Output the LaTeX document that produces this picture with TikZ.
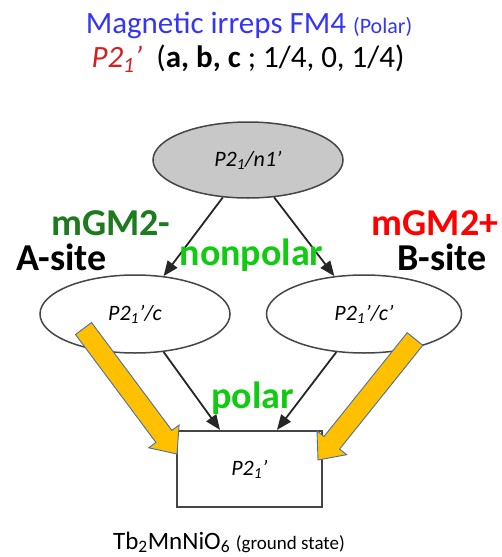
\documentclass[tikz,border=0pt]{standalone}
\usepackage{fontspec}
\setmainfont{Carlito}
\usetikzlibrary{shapes.geometric,arrows.meta,calc}
\definecolor{titleblue}{HTML}{3535F5}
\definecolor{titlered}{HTML}{D42020}
\definecolor{darkgreen}{HTML}{1E7A1E}
\definecolor{brightgreen}{HTML}{10CC10}
\definecolor{labelred}{HTML}{FF0000}
\definecolor{ellgray}{HTML}{C8C8C8}
\definecolor{edgegray}{HTML}{454545}
\definecolor{yelfill}{HTML}{FFC000}
\definecolor{yeledge}{HTML}{4A6FA5}
\newcommand{\fs}[1]{\fontsize{#1}{#1}\selectfont}
\begin{document}
\begin{tikzpicture}[x=1pt,y=-1pt,
  ell/.style={ellipse, draw=edgegray, line width=1.5pt, inner sep=0pt},
  grp/.style={font=\fs{22}\itshape},
  lbl/.style={anchor=base, font=\fs{38}\bfseries, inner sep=0pt},
  conn/.style={draw=black!85, line width=1.8pt, -{Triangle[length=15pt,width=12pt]}},
  yarrow/.style={fill=yelfill, draw=yeledge, line width=0.9pt, line join=miter}
]
\useasboundingbox (0,0) rectangle (501,557);

% title
\node[anchor=base, inner sep=0pt, text=titleblue] (t1) at (249,33)
  {\fs{31}Magnetic irreps FM4 {\fs{22}(Polar)}};
\node[anchor=base, inner sep=0pt] (t2) at (248,67)
  {\fs{31}\textcolor{titlered}{\itshape P2\textsubscript{1}’} \ (\textbf{a, b, c} ; 1/4, 0, 1/4)};

% nodes
\node[ell, fill=ellgray, minimum width=190pt, minimum height=76pt, grp] (top) at (248,160) {P2\textsubscript{1}/n1’};
\node[ell, fill=white, minimum width=190pt, minimum height=78pt, grp] (L) at (135,314) {P2\textsubscript{1}’/c};
\node[ell, fill=white, minimum width=195pt, minimum height=78pt, grp] (R) at (364,314) {P2\textsubscript{1}’/c’};
\node[draw=edgegray, line width=2.2pt, fill=white, minimum width=145pt, minimum height=76pt, inner sep=0pt, grp] (B) at (249.5,469) {P2\textsubscript{1}’};

% connectors
\draw[conn] (top.-124.4) -- (L.53);
\draw[conn] (top.-55.6) -- (R.128);
\draw[conn] (L.-53.6) -- ([xshift=-29.5pt]B.north);
\draw[conn] (R.-126.4) -- ([xshift=27.5pt]B.north);

% yellow arrows
\draw[yarrow] (91.5,322.5) -- (171.9,430.4) -- (179.1,425.0) -- (177,454)
  -- (148.7,447.8) -- (155.9,442.4) -- (75.5,334.5) -- cycle;
\draw[yarrow] (422.8,345.3) -- (339.6,449.1) -- (346.6,454.7) -- (318,460)
  -- (317.0,430.9) -- (324.0,436.5) -- (407.2,332.7) -- cycle;

% labels
\node[lbl, text=darkgreen] (mgm2m) at (111,235) {mGM2-};
\node[lbl] (asite) at (61.5,270) {A-site};
\node[lbl, text=brightgreen] (nonpolar) at (251.5,265) {nonpolar};
\node[lbl, text=labelred] (mgm2p) at (435,235) {mGM2+};
\node[lbl] (bsite) at (442,270) {B-site};
\node[lbl, text=brightgreen] (polar) at (252.5,408) {polar};

% bottom caption
\node[anchor=base, inner sep=0pt] (cap) at (229,549)
  {\fs{25}Tb\textsubscript{2}MnNiO\textsubscript{6} {\fs{19}(ground state)}};
\end{tikzpicture}
\end{document}
